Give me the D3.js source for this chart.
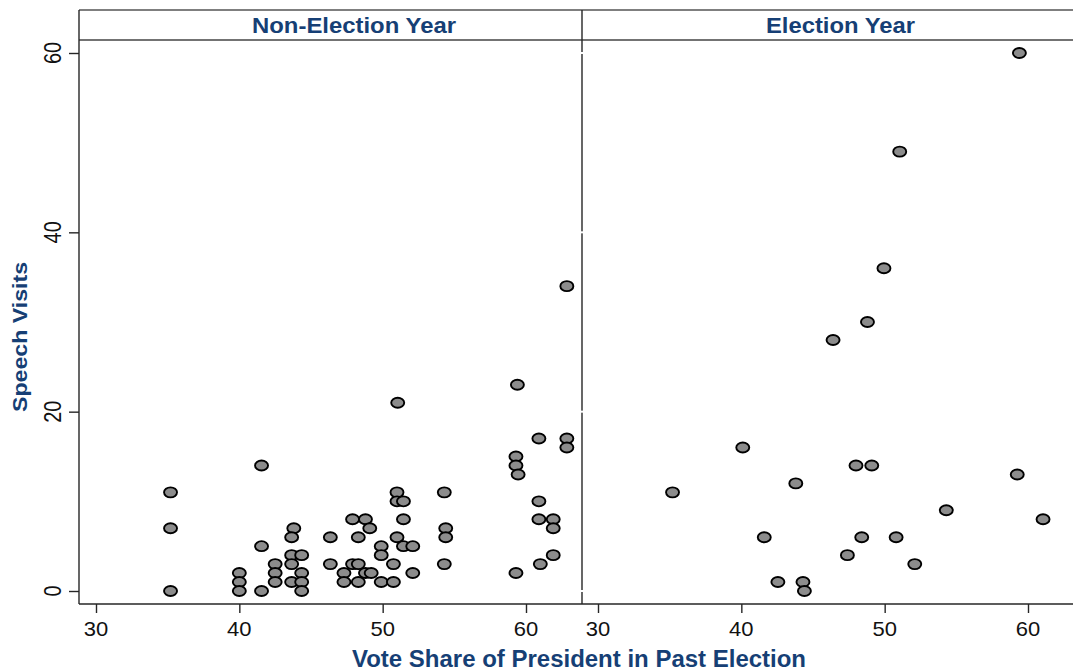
<!DOCTYPE html>
<html>
<head>
<meta charset="utf-8">
<script src="https://cdn.jsdelivr.net/npm/d3@7"></script>
<style>
  html, body { margin: 0; padding: 0; background: #fff; }
  svg { display: block; }
</style>
</head>
<body>
<svg id="chart" width="1073" height="672"></svg>
<script>
// ---- data ----
const panels = ["Non-Election Year", "Election Year"];
const xTicks = [30, 40, 50, 60];
const yTicks = [0, 20, 40, 60];
const xTitle = "Vote Share of President in Past Election";
const yTitle = "Speech Visits";

// Non-election year: vote share, speech visits
const nonElectionX = [35.2, 35.2, 35.2, 41.55, 41.55, 41.55, 40.0, 40.0, 40.0, 42.5, 42.5, 42.5,
  43.8, 43.65, 43.65, 44.35, 43.65, 43.65, 44.35, 44.35, 44.35,
  51.05, 51.0, 51.0, 51.45, 54.3, 47.9, 48.8, 49.1, 51.45, 54.4, 54.4,
  46.35, 48.3, 51.0, 49.9, 51.45, 52.1, 49.9,
  46.35, 47.9, 48.3, 50.75, 54.3,
  47.3, 48.8, 49.2, 52.1, 47.3, 48.3, 49.9, 50.75,
  62.85, 59.4, 60.9, 62.85, 62.85, 59.3, 59.3, 59.45, 60.9, 60.9, 61.9, 61.9, 61.9, 61.0, 59.3];
const nonElectionY = [11, 7, 0, 14, 5, 0, 2, 1, 0, 3, 2, 1,
  7, 6, 4, 4, 3, 1, 2, 1, 0,
  21, 11, 10, 10, 11, 8, 8, 7, 8, 7, 6,
  6, 6, 6, 5, 5, 5, 4,
  3, 3, 3, 3, 3,
  2, 2, 2, 2, 1, 1, 1, 1,
  34, 23, 17, 17, 16, 15, 14, 13, 10, 8, 8, 7, 4, 3, 2];

// Election year: vote share, speech visits
const electionX = [59.4, 51.05, 49.95, 48.8, 46.4, 40.1, 35.2, 48.0, 49.1, 43.8, 59.25, 54.3,
  61.05, 41.6, 48.4, 50.8, 47.4, 52.1, 42.55, 44.3, 44.4];
const electionY = [60, 49, 36, 30, 28, 16, 11, 14, 14, 12, 13, 9,
  8, 6, 6, 6, 4, 3, 1, 1, 0];

const seriesX = [nonElectionX, electionX];
const seriesY = [nonElectionY, electionY];

// ---- layout ----
const blue = "#163f75";
const lineCol = "#262626";
const svg = d3.select("#chart");

const frameTop = 10, headerBottom = 40, frameBottom = 604;
const panelLeft = [79, 582];
const xRanges = [[96, 526], [598, 1028]];
const titleCenters = [354, 840.5];
const titleLengths = [204, 149];

const y = d3.scaleLinear().domain([0, 60]).range([591, 53]);

panels.forEach((name, i) => {
  const x = d3.scaleLinear().domain([30, 60]).range(xRanges[i]);

  // points
  const pts = seriesX[i].map((v, k) => ({x: v, y: seriesY[i][k]}));
  svg.append("g").selectAll("ellipse").data(pts).join("ellipse")
    .attr("cx", d => x(d.x))
    .attr("cy", d => y(d.y))
    .attr("rx", 6.5).attr("ry", 5.0)
    .attr("fill", "#8c8c8c")
    .attr("stroke", "#000")
    .attr("stroke-width", 1.9);

  // x axis
  const ax = svg.append("g").attr("transform", `translate(0,${frameBottom})`)
    .call(d3.axisBottom(x).tickValues(xTicks).tickSize(9).tickFormat(""));
  ax.select(".domain").remove();
  ax.selectAll("line").attr("stroke", lineCol).attr("stroke-width", 1.4);
  xTicks.forEach(t => {
    svg.append("text")
      .attr("transform", `translate(${x(t)},636) scale(1.1,1)`)
      .attr("text-anchor", "middle")
      .attr("font-family", "Liberation Sans, Arial, sans-serif")
      .attr("font-size", 20)
      .attr("fill", "#111")
      .text(t);
  });

  // header title
  svg.append("text")
    .attr("x", titleCenters[i]).attr("y", 33)
    .attr("text-anchor", "middle")
    .attr("font-family", "Liberation Sans, Arial, sans-serif")
    .attr("font-weight", "bold")
    .attr("font-size", 22)
    .attr("fill", blue)
    .attr("textLength", titleLengths[i])
    .attr("lengthAdjust", "spacingAndGlyphs")
    .text(name);
});

// y axis (left panel)
const ay = svg.append("g").attr("transform", `translate(${panelLeft[0]},0)`)
  .call(d3.axisLeft(y).tickValues(yTicks).tickSize(10).tickFormat(""));
ay.select(".domain").remove();
ay.selectAll("line").attr("stroke", lineCol).attr("stroke-width", 1.4);
yTicks.forEach(t => {
  svg.append("text")
    .attr("transform", `translate(61,${y(t)}) scale(1.22,1) rotate(-90)`)
    .attr("text-anchor", "middle")
    .attr("font-family", "Liberation Sans, Arial, sans-serif")
    .attr("font-size", 20)
    .attr("fill", "#111")
    .text(t);
});

// frame lines
const frame = svg.append("g").attr("stroke", lineCol).attr("stroke-width", 1.4).attr("fill", "none");
frame.append("line").attr("x1", 79).attr("x2", 1073).attr("y1", frameTop).attr("y2", frameTop).attr("stroke", "#555");
frame.append("line").attr("x1", 79).attr("x2", 1073).attr("y1", headerBottom).attr("y2", headerBottom).attr("stroke", "#444");
frame.append("line").attr("x1", 79).attr("x2", 79).attr("y1", frameTop).attr("y2", frameBottom);
frame.append("line").attr("x1", panelLeft[1]).attr("x2", panelLeft[1]).attr("y1", frameTop).attr("y2", frameBottom);
frame.append("line").attr("x1", 79).attr("x2", 1073).attr("y1", frameBottom).attr("y2", frameBottom);

// white tick gaps on the divider (right panel y axis ticks)
svg.append("g").selectAll("line").data(yTicks).join("line")
  .attr("x1", 579).attr("x2", 584)
  .attr("y1", d => y(d)).attr("y2", d => y(d))
  .attr("stroke", "#fff").attr("stroke-width", 2);

// axis titles
svg.append("text")
  .attr("x", 579).attr("y", 667)
  .attr("text-anchor", "middle")
  .attr("font-family", "Liberation Sans, Arial, sans-serif")
  .attr("font-weight", "bold")
  .attr("font-size", 23)
  .attr("fill", blue)
  .attr("textLength", 454)
  .attr("lengthAdjust", "spacingAndGlyphs")
  .text(xTitle);

svg.append("text")
  .attr("transform", "translate(27,337) rotate(-90)")
  .attr("text-anchor", "middle")
  .attr("font-family", "Liberation Sans, Arial, sans-serif")
  .attr("font-weight", "bold")
  .attr("font-size", 21)
  .attr("fill", blue)
  .attr("textLength", 150)
  .attr("lengthAdjust", "spacingAndGlyphs")
  .text(yTitle);
</script>
</body>
</html>
